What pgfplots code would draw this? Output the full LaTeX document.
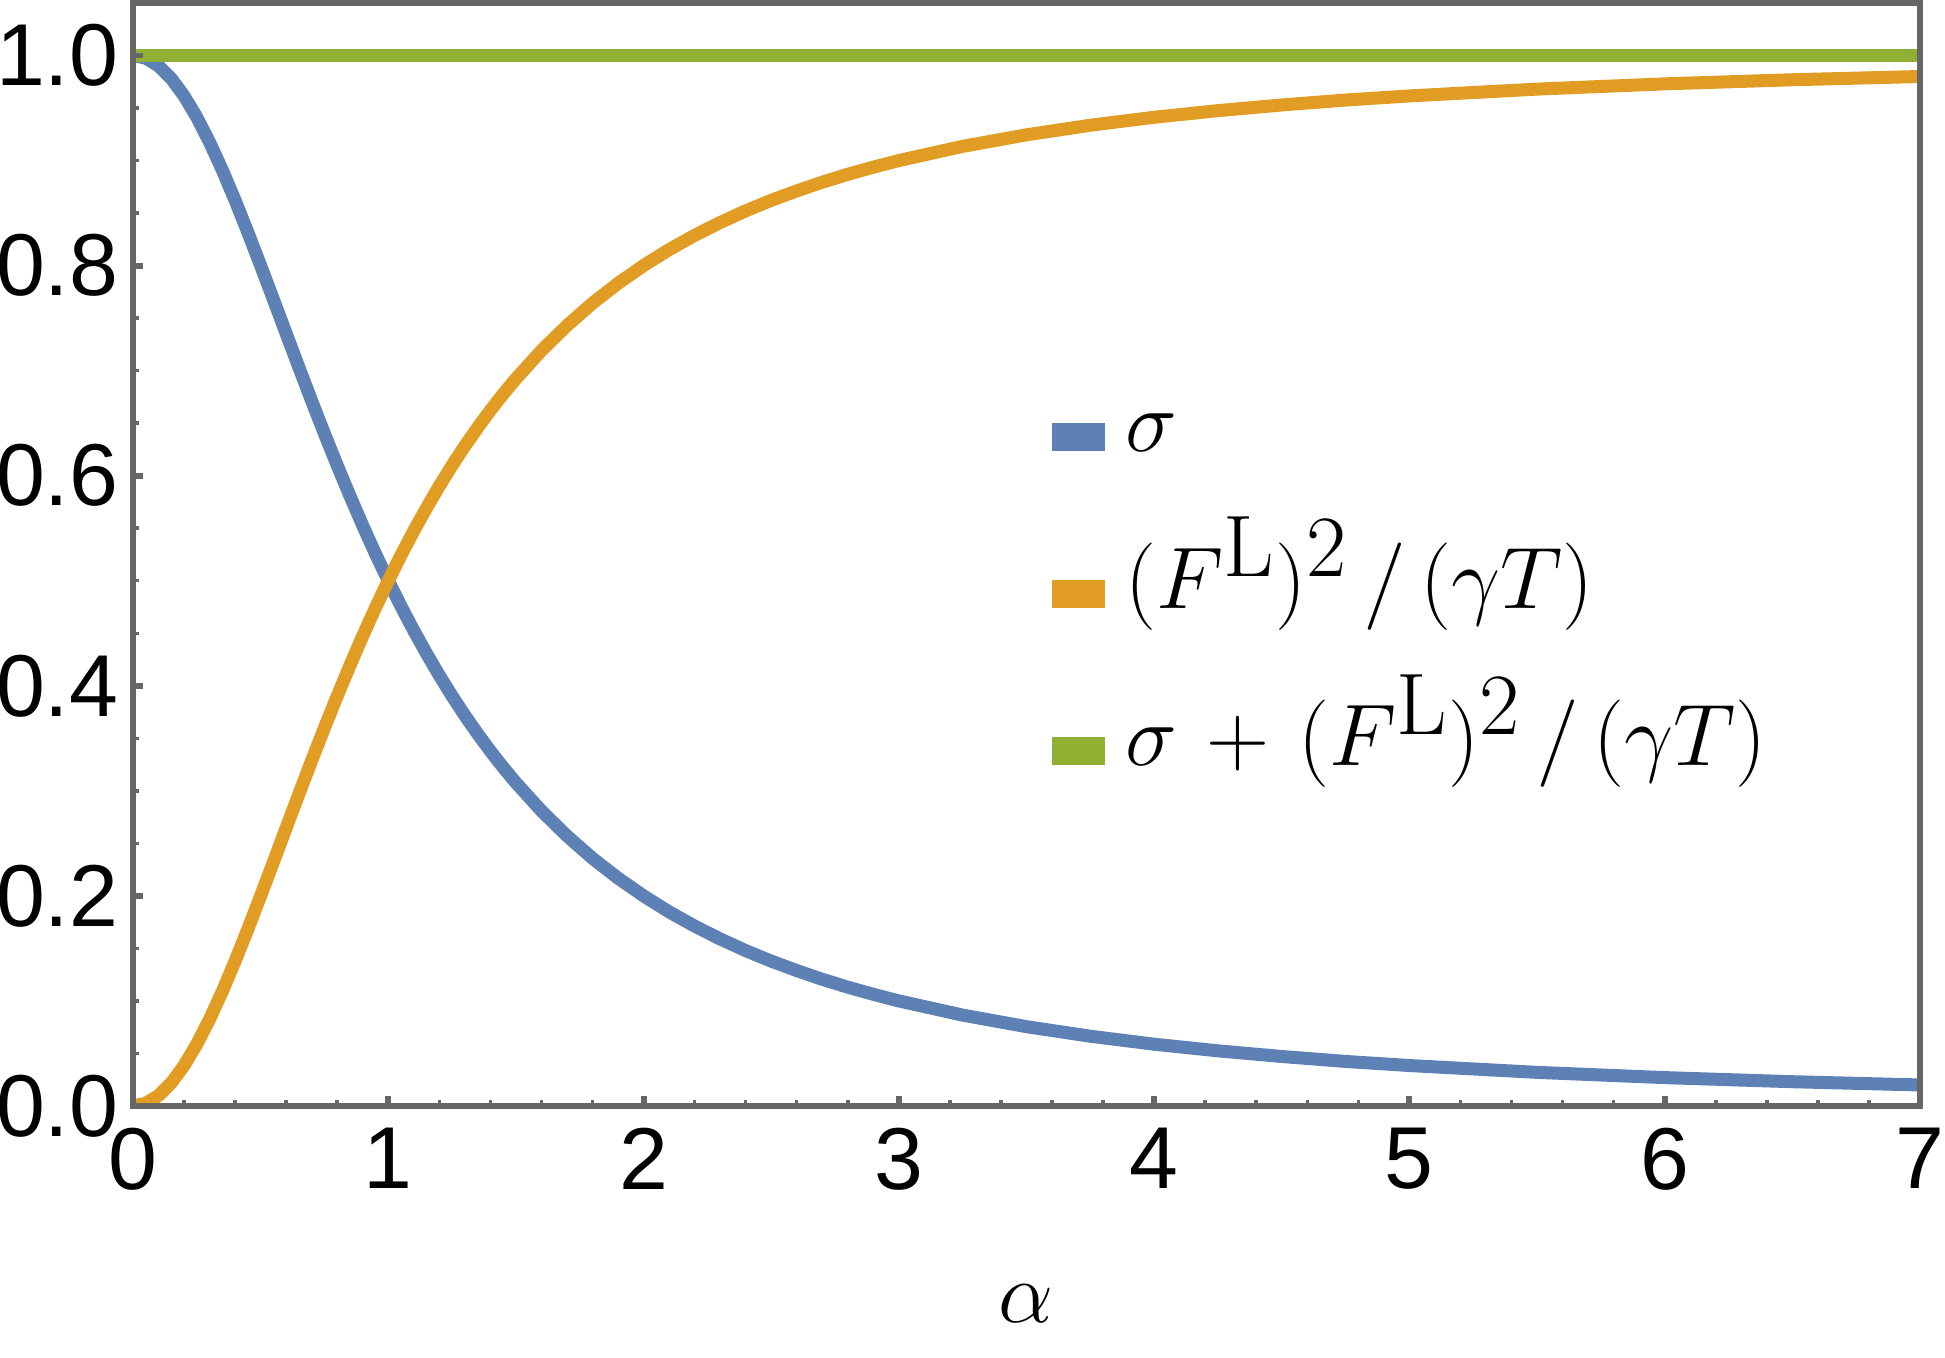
\documentclass[border=0pt]{standalone}
\usepackage[no-math]{fontspec}
\setmainfont{Liberation Sans}
\usepackage{pgfplots}
\pgfplotsset{compat=1.18}
\usepackage{pgfplotstable}

\definecolor{mblue}{RGB}{94,129,181}
\definecolor{morange}{RGB}{225,156,36}
\definecolor{mgreen}{RGB}{143,176,50}
\definecolor{frame}{RGB}{102,102,102}

% alpha, sigma, (F^L)^2/(gamma T), sum
\pgfplotstableread{
a     s       f       t
0.00  1.0000  0.0000  1
0.05  0.9975  0.0025  1
0.10  0.9901  0.0099  1
0.15  0.9780  0.0220  1
0.20  0.9615  0.0385  1
0.25  0.9412  0.0588  1
0.30  0.9174  0.0826  1
0.35  0.8909  0.1091  1
0.40  0.8621  0.1379  1
0.45  0.8316  0.1684  1
0.50  0.8000  0.2000  1
0.55  0.7678  0.2322  1
0.60  0.7353  0.2647  1
0.65  0.7030  0.2970  1
0.70  0.6711  0.3289  1
0.75  0.6400  0.3600  1
0.80  0.6098  0.3902  1
0.85  0.5806  0.4194  1
0.90  0.5525  0.4475  1
0.95  0.5256  0.4744  1
1.00  0.5000  0.5000  1
1.05  0.4756  0.5244  1
1.10  0.4525  0.5475  1
1.15  0.4306  0.5694  1
1.20  0.4098  0.5902  1
1.25  0.3902  0.6098  1
1.30  0.3717  0.6283  1
1.35  0.3543  0.6457  1
1.40  0.3378  0.6622  1
1.45  0.3223  0.6777  1
1.50  0.3077  0.6923  1
1.60  0.2809  0.7191  1
1.70  0.2571  0.7429  1
1.80  0.2358  0.7642  1
1.90  0.2169  0.7831  1
2.00  0.2000  0.8000  1
2.10  0.1848  0.8152  1
2.20  0.1712  0.8288  1
2.30  0.1590  0.8410  1
2.40  0.1479  0.8521  1
2.50  0.1379  0.8621  1
2.60  0.1289  0.8711  1
2.70  0.1206  0.8794  1
2.80  0.1131  0.8869  1
2.90  0.1063  0.8937  1
3.00  0.1000  0.9000  1
3.25  0.0865  0.9135  1
3.50  0.0755  0.9245  1
3.75  0.0664  0.9336  1
4.00  0.0588  0.9412  1
4.25  0.0525  0.9475  1
4.50  0.0471  0.9529  1
4.75  0.0424  0.9576  1
5.00  0.0385  0.9615  1
5.50  0.0320  0.9680  1
6.00  0.0270  0.9730  1
6.50  0.0231  0.9769  1
7.00  0.0200  0.9800  1
}\curves

\begin{document}
\begin{tikzpicture}
\useasboundingbox (0,0) rectangle (19.45cm,13.58cm);
\begin{axis}[
    at={(1.33cm,2.52cm)}, anchor=south west,
    scale only axis, width=17.87cm, height=11.03cm,
    xmin=0, xmax=7, ymin=0, ymax=1.05,
    xtick={0,1,2,3,4,5,6,7},
    ytick={0,0.2,0.4,0.6,0.8,1.0},
    minor x tick num=4, minor y tick num=3,
    tick pos=left, tick align=inside,
    major tick length=1mm, minor tick length=0.6mm,
    axis line style={frame, line width=1.7pt},
    every tick/.style={frame},
    major tick style={line width=1.7pt},
    minor tick style={line width=1pt},
    axis on top,
    ticklabel style={font=\fontsize{25}{30}\selectfont},
    /pgf/number format/assume math mode=true,
    xticklabel style={yshift=-1mm},
    yticklabel style={inner xsep=4pt, /pgf/number format/.cd, fixed, fixed zerofill, precision=1},
    xlabel={$\alpha$},
    xlabel style={font=\fontsize{29}{34}\selectfont, yshift=-7mm},
    legend style={at={(0.514,0.620)}, anchor=north west, draw=none, fill=none,
        font=\fontsize{33}{40}\selectfont, row sep=34pt, inner sep=0pt,
        nodes={inner sep=0pt, text height=0.75em, text depth=0.25em},
        cells={anchor=west}},
    legend image code/.code={\fill[#1, draw=none] (0mm,-0.8mm) rectangle (5.3mm,2.0mm);},
    /tikz/every odd column/.append style={column sep=2mm},
]
\addplot[color=mblue, line width=3.7pt] table[x=a, y=s] {\curves};
\addlegendentry{$\sigma$}
\addplot[color=morange, line width=3.7pt] table[x=a, y=f] {\curves};
\addlegendentry{$(F^{\mathrm{L}})^2\mkern3mu/\mkern3mu(\gamma T)$}
\addplot[color=mgreen, line width=3.7pt] table[x=a, y=t] {\curves};
\addlegendentry{$\sigma\mkern2mu+\mkern2mu(F^{\mathrm{L}})^2\mkern3mu/\mkern3mu(\gamma T)$}
\end{axis}
\end{tikzpicture}
\end{document}
